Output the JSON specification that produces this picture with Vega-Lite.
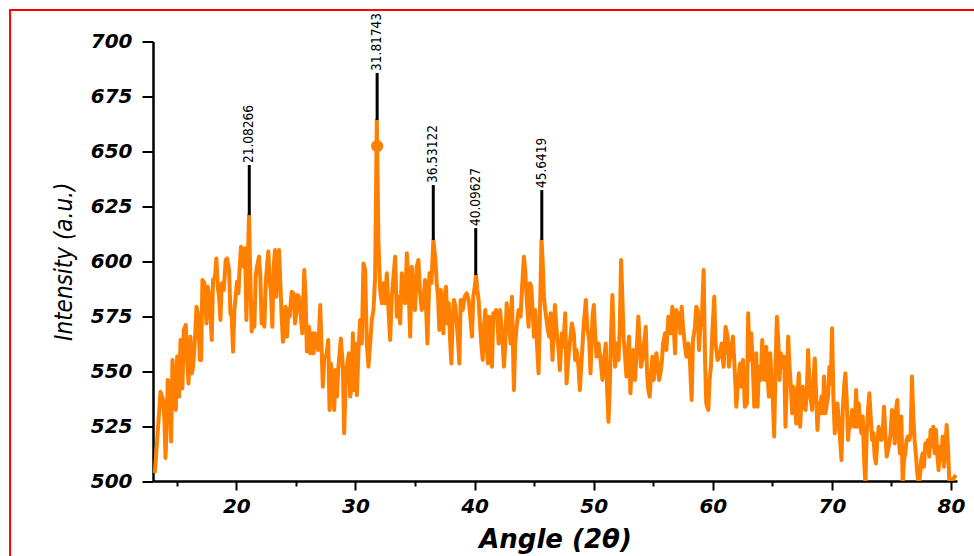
{
  "$schema": "https://vega.github.io/schema/vega-lite/v6.json",
  "width": 804,
  "height": 439.5,
  "autosize": "none",
  "padding": {"left": 153, "top": 41.5, "right": 17, "bottom": 75},
  "background": "white",
  "config": {"view": {"stroke": null}},
  "datasets": {
    "xrd": [
      {"a":13.15,"i":503.6},{"a":13.35,"i":518.7},{"a":13.63,"i":540.6},{"a":13.85,"i":536.9},{"a":13.96,"i":527.8},{"a":14.05,"i":510.5},{"a":14.13,"i":521.7},{"a":14.24,"i":546.0},{"a":14.41,"i":544.4},{"a":14.52,"i":518.0},{"a":14.635,"i":555.1},{"a":14.8,"i":536.9},{"a":14.915,"i":532.3},{"a":15.03,"i":556.6},{"a":15.19,"i":538.4},{"a":15.31,"i":564.2},{"a":15.47,"i":542.2},{"a":15.585,"i":568.7},{"a":15.75,"i":571.0},{"a":15.865,"i":555.1},{"a":15.98,"i":544.4},{"a":16.14,"i":565.7},{"a":16.26,"i":549.0},{"a":16.37,"i":552.0},{"a":16.535,"i":565.7},{"a":16.65,"i":579.3},{"a":16.815,"i":574.8},{"a":16.93,"i":555.1},{"a":17.04,"i":555.1},{"a":17.15,"i":591.5},{"a":17.32,"i":590.0},{"a":17.485,"i":571.7},{"a":17.6,"i":588.4},{"a":17.765,"i":582.4},{"a":17.93,"i":564.2},{"a":18.04,"i":591.5},{"a":18.21,"i":593.0},{"a":18.32,"i":601.3},{"a":18.435,"i":588.4},{"a":18.55,"i":583.9},{"a":18.66,"i":573.3},{"a":18.77,"i":590.0},{"a":18.94,"i":586.9},{"a":19.105,"i":600.6},{"a":19.22,"i":601.3},{"a":19.385,"i":596.0},{"a":19.5,"i":576.3},{"a":19.61,"i":574.8},{"a":19.72,"i":558.9},{"a":19.83,"i":577.8},{"a":19.94,"i":583.9},{"a":20.055,"i":590.7},{"a":20.17,"i":585.4},{"a":20.28,"i":597.5},{"a":20.39,"i":606.6},{"a":20.5,"i":605.1},{"a":20.615,"i":597.5},{"a":20.73,"i":605.9},{"a":20.84,"i":573.3},{"a":20.95,"i":597.5},{"a":21.06,"i":621.0},{"a":21.17,"i":593.0},{"a":21.285,"i":568.0},{"a":21.4,"i":577.8},{"a":21.51,"i":570.2},{"a":21.62,"i":593.0},{"a":21.73,"i":597.5},{"a":21.9,"i":602.1},{"a":22.01,"i":593.0},{"a":22.12,"i":571.7},{"a":22.235,"i":582.4},{"a":22.35,"i":570.2},{"a":22.46,"i":590.0},{"a":22.57,"i":597.5},{"a":22.68,"i":604.4},{"a":22.79,"i":591.5},{"a":22.905,"i":585.4},{"a":23.02,"i":570.2},{"a":23.13,"i":597.5},{"a":23.24,"i":605.1},{"a":23.35,"i":583.9},{"a":23.465,"i":597.5},{"a":23.58,"i":605.1},{"a":23.69,"i":590.0},{"a":23.8,"i":574.8},{"a":23.91,"i":563.4},{"a":24.02,"i":568.7},{"a":24.135,"i":579.3},{"a":24.25,"i":565.7},{"a":24.36,"i":577.8},{"a":24.47,"i":574.8},{"a":24.64,"i":586.1},{"a":24.805,"i":585.4},{"a":24.92,"i":571.7},{"a":25.03,"i":576.3},{"a":25.14,"i":584.6},{"a":25.25,"i":583.9},{"a":25.365,"i":577.8},{"a":25.53,"i":567.2},{"a":25.7,"i":596.0},{"a":25.81,"i":583.9},{"a":25.92,"i":558.9},{"a":26.09,"i":570.2},{"a":26.2,"i":558.1},{"a":26.37,"i":567.2},{"a":26.48,"i":558.1},{"a":26.59,"i":567.2},{"a":26.71,"i":564.2},{"a":26.87,"i":559.6},{"a":27.04,"i":580.1},{"a":27.15,"i":561.1},{"a":27.26,"i":542.9},{"a":27.38,"i":556.6},{"a":27.54,"i":556.6},{"a":27.71,"i":564.2},{"a":27.82,"i":532.3},{"a":27.935,"i":553.5},{"a":28.1,"i":546.0},{"a":28.21,"i":532.3},{"a":28.33,"i":550.5},{"a":28.44,"i":538.4},{"a":28.55,"i":550.5},{"a":28.66,"i":558.1},{"a":28.77,"i":564.9},{"a":28.94,"i":552.0},{"a":29.05,"i":521.7},{"a":29.165,"i":542.9},{"a":29.28,"i":552.0},{"a":29.44,"i":558.1},{"a":29.555,"i":538.4},{"a":29.67,"i":542.9},{"a":29.78,"i":567.2},
      {"a":29.84,"i":541.4},{"a":29.975,"i":562.6},{"a":30.115,"i":539.1},{"a":30.255,"i":559.6},{"a":30.39,"i":573.3},{"a":30.53,"i":562.6},{"a":30.67,"i":599.0},{"a":30.81,"i":596.0},{"a":30.95,"i":562.6},{"a":31.09,"i":552.0},{"a":31.23,"i":562.6},{"a":31.37,"i":573.3},{"a":31.51,"i":577.8},{"a":31.65,"i":593.0},{"a":31.79,"i":664.3},{"a":31.93,"i":608.2},{"a":32.07,"i":586.9},{"a":32.21,"i":580.9},{"a":32.35,"i":590.0},{"a":32.49,"i":580.9},{"a":32.63,"i":594.5},{"a":32.77,"i":577.8},{"a":32.91,"i":564.2},{"a":33.05,"i":583.9},{"a":33.19,"i":593.0},{"a":33.33,"i":602.1},{"a":33.47,"i":574.8},{"a":33.61,"i":583.9},{"a":33.75,"i":571.7},{"a":33.89,"i":594.5},{"a":34.03,"i":585.4},{"a":34.17,"i":580.9},{"a":34.31,"i":603.6},{"a":34.45,"i":590.0},{"a":34.59,"i":565.7},{"a":34.725,"i":597.5},{"a":34.865,"i":586.9},{"a":35.0,"i":577.8},{"a":35.14,"i":597.5},{"a":35.28,"i":600.6},{"a":35.42,"i":585.4},{"a":35.56,"i":577.8},{"a":35.7,"i":580.9},{"a":35.84,"i":591.5},{"a":36.04,"i":562.6},{"a":36.21,"i":594.5},{"a":36.37,"i":590.0},{"a":36.54,"i":609.7},{"a":36.71,"i":600.6},{"a":36.82,"i":590.0},{"a":36.93,"i":583.9},{"a":37.04,"i":568.7},{"a":37.16,"i":586.9},{"a":37.27,"i":577.8},{"a":37.38,"i":567.2},{"a":37.49,"i":583.9},{"a":37.6,"i":588.4},{"a":37.715,"i":571.7},{"a":37.83,"i":580.9},{"a":37.94,"i":564.2},{"a":38.05,"i":553.5},{"a":38.16,"i":574.8},{"a":38.27,"i":582.4},{"a":38.39,"i":579.3},{"a":38.5,"i":571.7},{"a":38.61,"i":564.2},{"a":38.72,"i":553.5},{"a":38.83,"i":582.4},{"a":39.0,"i":577.8},{"a":39.17,"i":583.9},{"a":39.335,"i":585.4},{"a":39.5,"i":582.4},{"a":39.615,"i":576.3},{"a":39.78,"i":565.7},{"a":39.89,"i":583.9},{"a":40.01,"i":588.4},{"a":40.12,"i":593.7},{"a":40.23,"i":586.9},{"a":40.34,"i":582.4},{"a":40.45,"i":571.7},{"a":40.56,"i":562.6},{"a":40.68,"i":555.1},{"a":40.79,"i":570.2},{"a":40.9,"i":577.8},{"a":41.01,"i":562.6},{"a":41.12,"i":553.5},{"a":41.235,"i":574.8},{"a":41.35,"i":564.2},{"a":41.46,"i":552.0},{"a":41.57,"i":576.3},{"a":41.68,"i":574.8},{"a":41.79,"i":577.8},{"a":41.905,"i":573.3},{"a":42.02,"i":562.6},{"a":42.13,"i":577.8},{"a":42.3,"i":568.7},{"a":42.465,"i":552.0},{"a":42.58,"i":562.6},{"a":42.69,"i":580.9},{"a":42.855,"i":574.8},{"a":43.02,"i":562.6},{"a":43.135,"i":583.9},{"a":43.3,"i":541.4},{"a":43.41,"i":562.6},{"a":43.53,"i":570.2},{"a":43.69,"i":577.8},{"a":43.86,"i":574.8},{"a":43.97,"i":586.9},{"a":44.14,"i":602.1},{"a":44.25,"i":596.0},{"a":44.36,"i":583.9},{"a":44.53,"i":570.2},{"a":44.645,"i":590.0},{"a":44.756,"i":588.4},{"a":44.87,"i":577.8},{"a":44.98,"i":565.7},{"a":45.09,"i":577.8},{"a":45.2,"i":565.7},{"a":45.37,"i":549.0},{"a":45.48,"i":574.8},{"a":45.62,"i":609.7},{"a":45.71,"i":600.6},{"a":45.82,"i":583.9},{"a":45.93,"i":577.8},{"a":46.04,"i":573.3},{"a":46.15,"i":568.7},{"a":46.265,"i":565.7},{"a":46.38,"i":576.3},{"a":46.54,"i":555.1},
      {"a":46.74,"i":580.1},{"a":46.88,"i":568.7},{"a":47.05,"i":559.6},{"a":47.16,"i":550.5},{"a":47.33,"i":567.2},{"a":47.44,"i":561.1},{"a":47.61,"i":576.3},{"a":47.72,"i":544.4},{"a":47.885,"i":556.6},{"a":48.05,"i":565.7},{"a":48.165,"i":571.7},{"a":48.33,"i":567.2},{"a":48.44,"i":555.1},{"a":48.56,"i":559.6},{"a":48.72,"i":552.0},{"a":48.835,"i":541.4},{"a":49.0,"i":556.6},{"a":49.17,"i":571.7},{"a":49.34,"i":582.4},{"a":49.45,"i":570.2},{"a":49.62,"i":564.2},{"a":49.73,"i":549.0},{"a":49.9,"i":574.8},{"a":50.01,"i":580.1},{"a":50.12,"i":567.2},{"a":50.23,"i":556.6},{"a":50.4,"i":562.6},{"a":50.57,"i":555.1},{"a":50.735,"i":546.0},{"a":50.85,"i":555.1},{"a":51.015,"i":562.6},{"a":51.13,"i":541.4},{"a":51.24,"i":527.0},{"a":51.35,"i":542.9},{"a":51.46,"i":567.2},{"a":51.57,"i":584.6},{"a":51.685,"i":564.2},{"a":51.8,"i":552.0},{"a":51.91,"i":562.6},{"a":52.08,"i":555.1},{"a":52.19,"i":570.2},{"a":52.3,"i":600.6},{"a":52.41,"i":582.4},{"a":52.52,"i":564.2},{"a":52.635,"i":556.6},{"a":52.75,"i":547.5},{"a":52.86,"i":558.1},{"a":52.97,"i":565.7},{"a":53.08,"i":539.9},{"a":53.19,"i":552.0},{"a":53.305,"i":559.6},{"a":53.47,"i":546.0},{"a":53.58,"i":556.6},{"a":53.75,"i":574.8},{"a":53.86,"i":562.6},{"a":53.97,"i":552.0},{"a":54.09,"i":555.1},{"a":54.2,"i":561.1},{"a":54.37,"i":570.2},{"a":54.48,"i":549.0},{"a":54.59,"i":541.4},{"a":54.7,"i":538.4},{"a":54.81,"i":549.0},{"a":54.93,"i":556.6},{"a":55.04,"i":546.0},{"a":55.15,"i":552.0},{"a":55.26,"i":558.1},{"a":55.37,"i":553.5},{"a":55.485,"i":546.0},{"a":55.6,"i":549.0},{"a":55.71,"i":553.5},{"a":55.82,"i":562.6},{"a":55.99,"i":567.2},{"a":56.1,"i":559.6},{"a":56.27,"i":574.8},{"a":56.38,"i":570.2},{"a":56.49,"i":567.2},{"a":56.6,"i":579.3},{"a":56.715,"i":570.2},{"a":56.83,"i":558.1},{"a":56.94,"i":577.8},{"a":57.05,"i":570.2},{"a":57.16,"i":576.3},{"a":57.27,"i":567.2},{"a":57.385,"i":579.3},{"a":57.5,"i":570.2},{"a":57.665,"i":561.1},{"a":57.78,"i":556.6},{"a":57.945,"i":562.6},{"a":58.06,"i":556.6},{"a":58.22,"i":536.9},{"a":58.335,"i":564.2},{"a":58.5,"i":570.2},{"a":58.61,"i":579.3},{"a":58.73,"i":577.8},{"a":58.84,"i":559.6},{"a":58.95,"i":570.2},{"a":59.06,"i":571.7},{"a":59.23,"i":596.0},{"a":59.34,"i":556.6},{"a":59.45,"i":535.3},{"a":59.62,"i":532.3},{"a":59.73,"i":546.0},{"a":59.84,"i":552.0},{"a":59.955,"i":567.2},{"a":60.12,"i":583.9},{"a":60.23,"i":562.6},{"a":60.4,"i":555.1},{"a":60.57,"i":556.6},{"a":60.74,"i":562.6},{"a":60.905,"i":552.0},{"a":61.07,"i":570.2},{"a":61.24,"i":565.7},{"a":61.35,"i":552.0},{"a":61.52,"i":559.6},{"a":61.69,"i":565.7},{"a":61.855,"i":549.0},{"a":61.97,"i":533.8},{"a":62.14,"i":546.0},{"a":62.3,"i":553.5},{"a":62.415,"i":542.9},{"a":62.53,"i":555.1},{"a":62.69,"i":533.8},{"a":62.86,"i":535.3},{"a":62.97,"i":576.3},{"a":63.08,"i":555.1},
      {"a":63.225,"i":567.2},{"a":63.36,"i":552.0},{"a":63.48,"i":533.8},{"a":63.64,"i":558.1},{"a":63.755,"i":533.8},{"a":63.87,"i":552.0},{"a":64.035,"i":546.0},{"a":64.15,"i":564.2},{"a":64.26,"i":549.0},{"a":64.37,"i":546.0},{"a":64.48,"i":561.1},{"a":64.59,"i":549.0},{"a":64.705,"i":538.4},{"a":64.82,"i":558.1},{"a":64.93,"i":546.0},{"a":65.04,"i":536.9},{"a":65.15,"i":520.2},{"a":65.265,"i":552.0},{"a":65.38,"i":574.8},{"a":65.49,"i":564.2},{"a":65.6,"i":546.0},{"a":65.71,"i":558.1},{"a":65.82,"i":552.0},{"a":65.99,"i":556.6},{"a":66.1,"i":524.7},{"a":66.215,"i":546.0},{"a":66.33,"i":565.7},{"a":66.44,"i":552.0},{"a":66.55,"i":542.9},{"a":66.66,"i":530.8},{"a":66.77,"i":542.9},{"a":66.885,"i":539.9},{"a":67.0,"i":526.2},{"a":67.11,"i":539.9},{"a":67.22,"i":549.0},{"a":67.33,"i":524.7},{"a":67.445,"i":536.9},{"a":67.555,"i":542.9},{"a":67.67,"i":533.8},{"a":67.78,"i":532.3},{"a":67.89,"i":539.9},{"a":68.0,"i":559.6},{"a":68.11,"i":544.4},{"a":68.23,"i":536.9},{"a":68.34,"i":532.3},{"a":68.45,"i":546.0},{"a":68.56,"i":555.8},{"a":68.67,"i":539.9},{"a":68.785,"i":523.2},{"a":68.9,"i":535.3},{"a":69.01,"i":530.8},{"a":69.12,"i":538.4},{"a":69.23,"i":530.8},{"a":69.34,"i":547.5},{"a":69.455,"i":530.8},{"a":69.57,"i":535.3},{"a":69.68,"i":538.4},{"a":69.79,"i":552.0},{"a":69.9,"i":544.4},{"a":70.01,"i":569.5},{"a":70.13,"i":536.9},{"a":70.24,"i":521.7},{"a":70.35,"i":527.8},{"a":70.46,"i":535.3},{"a":70.57,"i":527.8},{"a":70.685,"i":518.7},{"a":70.8,"i":509.6},{"a":70.91,"i":532.3},{"a":71.02,"i":542.9},{"a":71.13,"i":549.0},{"a":71.24,"i":536.9},{"a":71.355,"i":518.7},{"a":71.47,"i":527.8},{"a":71.58,"i":524.7},{"a":71.69,"i":532.3},{"a":71.8,"i":529.3},{"a":71.915,"i":524.7},{"a":72.03,"i":541.4},{"a":72.14,"i":524.7},{"a":72.25,"i":535.3},{"a":72.36,"i":527.8},{"a":72.47,"i":521.7},{"a":72.585,"i":529.3},{"a":72.7,"i":509.6},{"a":72.81,"i":498.5},{"a":72.92,"i":521.7},{"a":73.03,"i":532.3},{"a":73.14,"i":539.9},{"a":73.255,"i":529.3},{"a":73.37,"i":518.7},{"a":73.48,"i":521.7},{"a":73.59,"i":511.1},{"a":73.7,"i":508.0},{"a":73.815,"i":518.7},{"a":73.93,"i":524.7},{"a":74.04,"i":520.2},{"a":74.15,"i":518.7},{"a":74.26,"i":521.7},{"a":74.37,"i":533.8},{"a":74.485,"i":521.7},{"a":74.6,"i":511.1},{"a":74.71,"i":514.1},{"a":74.82,"i":517.1},{"a":74.93,"i":521.7},{"a":75.04,"i":532.3},{"a":75.155,"i":529.3},{"a":75.27,"i":517.1},{"a":75.38,"i":532.3},{"a":75.49,"i":536.9},{"a":75.6,"i":520.2},{"a":75.71,"i":512.6},{"a":75.83,"i":529.3},{"a":75.94,"i":498.5},{"a":76.05,"i":509.6},{"a":76.16,"i":512.6},{"a":76.27,"i":518.7},{"a":76.385,"i":520.2},{"a":76.5,"i":518.7},{"a":76.61,"i":521.7},{"a":76.72,"i":547.5},{"a":76.83,"i":529.3},{"a":76.94,"i":518.7},{"a":77.06,"i":511.1},{"a":77.17,"i":503.5},{"a":77.28,"i":498.5},{"a":77.39,"i":502.0},{"a":77.5,"i":509.6},{"a":77.61,"i":512.6},{"a":77.73,"i":506.5},{"a":77.84,"i":517.1},{"a":77.95,"i":515.6},{"a":78.06,"i":518.7},{"a":78.17,"i":511.1},{"a":78.285,"i":523.2},{"a":78.4,"i":515.6},{"a":78.51,"i":524.7},{"a":78.62,"i":512.6},{"a":78.73,"i":523.2},{"a":78.84,"i":512.6},{"a":78.955,"i":505.0},{"a":79.07,"i":515.6},{"a":79.18,"i":509.6},{"a":79.29,"i":520.2},{"a":79.4,"i":506.5},{"a":79.515,"i":514.1},{"a":79.63,"i":525.5},{"a":79.74,"i":515.6},{"a":79.85,"i":500.5},{"a":79.96,"i":497.4},{"a":80.13,"i":500.5},{"a":80.3,"i":502.0},{"a":80.41,"i":502.7}
    ],
    "peaks": [
      {"a":21.08266,"i":643.8,"p":621.0,"label":"21.08266"},
      {"a":31.81743,"i":685.7,"p":664.3,"label":"31.81743"},
      {"a":36.53122,"i":634.7,"p":609.7,"label":"36.53122"},
      {"a":40.09627,"i":615.1,"p":593.7,"label":"40.09627"},
      {"a":45.6419,"i":632.4,"p":609.7,"label":"45.6419"}
    ],
    "marker": [{"a":31.81743,"i":652.4}]
  },
  "layer": [
    {
      "data": {"name": "xrd"},
      "mark": {"type": "line", "color": "#FF8000", "strokeWidth": 4, "strokeJoin": "round", "clip": true},
      "encoding": {
        "x": {
          "field": "a", "type": "quantitative",
          "scale": {"domain": [13, 80.5], "nice": false, "zero": false},
          "axis": {
            "values": [15,20,25,30,35,40,45,50,55,60,65,70,75,80],
            "labelExpr": "datum.value % 10 === 0 ? datum.label : ''",
            "tickSize": {"condition": {"test": "datum.value % 10 === 0", "value": 9}, "value": 5},
            "tickWidth": 2, "tickColor": "black", "domainColor": "black", "domainWidth": 2.5,
            "labelFont": "DejaVu Sans", "labelFontSize": 20, "labelFontWeight": "bold", "labelFontStyle": "italic", "labelColor": "black",
            "labelPadding": 6, "labelOverlap": false, "labelFlush": false, "grid": false,
            "title": "Angle (2θ)", "titleFont": "DejaVu Sans", "titleFontSize": 26, "titleFontWeight": "bold", "titleFontStyle": "italic", "titleColor": "black", "titlePadding": 10
          }
        },
        "y": {
          "field": "i", "type": "quantitative",
          "scale": {"domain": [500, 700], "nice": false, "zero": false},
          "axis": {
            "values": [500,512.5,525,537.5,550,562.5,575,587.5,600,612.5,625,637.5,650,662.5,675,687.5,700],
            "labelExpr": "datum.value % 25 === 0 ? datum.label : ''",
            "tickSize": {"condition": {"test": "datum.value % 25 === 0", "value": 11}, "value": 6},
            "tickWidth": 2, "tickColor": "black", "domainColor": "black", "domainWidth": 2.5,
            "labelFont": "DejaVu Sans", "labelFontSize": 20, "labelFontWeight": "bold", "labelFontStyle": "italic", "labelColor": "black",
            "labelPadding": 10, "labelOverlap": false, "labelFlush": false, "grid": false,
            "title": "Intensity (a.u.)", "titleFont": "DejaVu Sans Condensed, sans-serif", "titleFontSize": 24, "titleFontWeight": "normal", "titleFontStyle": "italic", "titleColor": "black", "titlePadding": 14
          }
        }
      }
    },
    {
      "data": {"name": "peaks"},
      "mark": {"type": "rule", "color": "black", "strokeWidth": 3},
      "encoding": {
        "x": {"field": "a", "type": "quantitative", "scale": {"domain": [13, 80.5], "nice": false, "zero": false}},
        "y": {"field": "i", "type": "quantitative", "scale": {"domain": [500, 700], "nice": false, "zero": false}},
        "y2": {"field": "p"}
      }
    },
    {
      "data": {"name": "marker"},
      "mark": {"type": "point", "shape": "circle", "filled": true, "color": "#FF8000", "size": 150, "opacity": 1},
      "encoding": {
        "x": {"field": "a", "type": "quantitative", "scale": {"domain": [13, 80.5], "nice": false, "zero": false}},
        "y": {"field": "i", "type": "quantitative", "scale": {"domain": [500, 700], "nice": false, "zero": false}}
      }
    },
    {
      "data": {"name": "peaks"},
      "mark": {"type": "text", "angle": 270, "align": "left", "baseline": "middle", "dx": 2, "font": "DejaVu Sans Condensed, sans-serif", "fontSize": 13.5, "color": "black"},
      "encoding": {
        "x": {"field": "a", "type": "quantitative", "scale": {"domain": [13, 80.5], "nice": false, "zero": false}},
        "y": {"field": "i", "type": "quantitative", "scale": {"domain": [500, 700], "nice": false, "zero": false}},
        "text": {"field": "label"}
      }
    },
    {
      "data": {"values": [{}]},
      "mark": {"type": "rect", "filled": false, "stroke": "#FF0000", "strokeWidth": 2, "clip": false},
      "encoding": {
        "x": {"datum": 1.0, "type": "quantitative", "scale": {"domain": [13, 80.5], "nice": false, "zero": false}},
        "x2": {"datum": 83},
        "y": {"datum": 714.3, "type": "quantitative", "scale": {"domain": [500, 700], "nice": false, "zero": false}},
        "y2": {"datum": 455}
      }
    }
  ]
}
